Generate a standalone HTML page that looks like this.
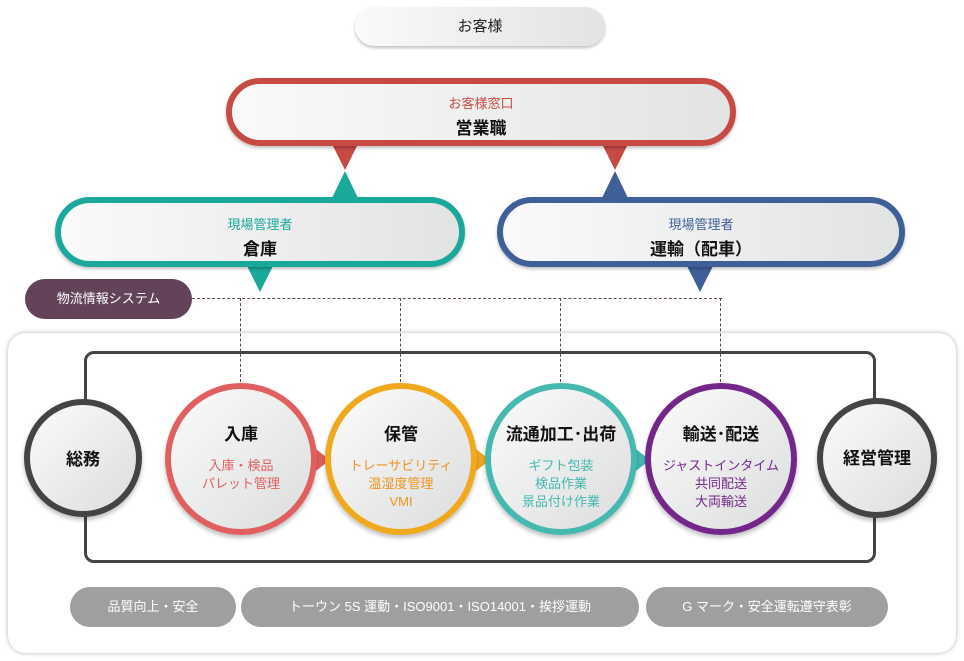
<!DOCTYPE html>
<html><head><meta charset="utf-8"><style>
*{box-sizing:border-box;margin:0;padding:0}
body{width:964px;height:661px;background:#fff;position:relative;overflow:hidden;font-family:"Liberation Sans","Noto Sans CJK JP",sans-serif}
.a{position:absolute}
.pill{position:absolute;border-radius:40px;background:linear-gradient(90deg,#fafafa,#e2e3e3);text-align:center;box-shadow:0 2px 3px rgba(0,0,0,.25)}
.pill .s{font-size:13px;margin-top:11px}
.pill .b{font-size:17px;font-weight:bold;color:#111;margin-top:2px}
.tri{position:absolute;width:0;height:0}
.circ{position:absolute;border-radius:50%;background:linear-gradient(135deg,#fbfbfb,#dcdddd);text-align:center;box-shadow:0 3px 4px rgba(0,0,0,.25)}
.circ .t{font-size:17px;font-weight:bold;color:#111;margin-top:31px}
.circ .d{font-size:13px;line-height:18px;margin-top:12px}
.gp{position:absolute;top:587px;height:40px;border-radius:20px;background:#9e9f9f;color:#fff;font-size:13px;text-align:center;line-height:40px}
</style></head><body>
<div class="pill" style="left:355px;top:7px;width:250px;height:39px;border-radius:20px;font-size:15px;line-height:39px;color:#222">お客様</div>

<div class="tri" style="left:332px;top:144px;border-left:13px solid transparent;border-right:13px solid transparent;border-top:26px solid #c84a45"></div>
<div class="tri" style="left:602px;top:144px;border-left:13px solid transparent;border-right:13px solid transparent;border-top:26px solid #c84a45"></div>
<div class="tri" style="left:332px;top:171px;border-left:13px solid transparent;border-right:13px solid transparent;border-bottom:27px solid #1aa89b"></div>
<div class="tri" style="left:602px;top:171px;border-left:13px solid transparent;border-right:13px solid transparent;border-bottom:27px solid #3e5f98"></div>
<div class="tri" style="left:247px;top:266px;border-left:13px solid transparent;border-right:13px solid transparent;border-top:26px solid #1aa89b"></div>
<div class="tri" style="left:687px;top:266px;border-left:13px solid transparent;border-right:13px solid transparent;border-top:26px solid #3e5f98"></div>

<div class="pill" style="left:226px;top:78px;width:510px;height:68px;border:6px solid #c84a45"><div class="s" style="color:#c84a45;margin-top:9px">お客様窓口</div><div class="b">営業職</div></div>
<div class="pill" style="left:55px;top:197px;width:410px;height:70px;border:6px solid #1aa89b"><div class="s" style="color:#1aa89b">現場管理者</div><div class="b">倉庫</div></div>
<div class="pill" style="left:497px;top:197px;width:408px;height:70px;border:6px solid #3e5f98"><div class="s" style="color:#3e5f98">現場管理者</div><div class="b">運輸（配車）</div></div>

<div class="a" style="left:25px;top:279px;width:167px;height:40px;border-radius:20px;background:#62435a;color:#fff;font-size:13px;line-height:40px;text-align:center">物流情報システム</div>
<div class="a" style="left:192px;top:298px;width:530px;border-top:1px dashed #62435a"></div>

<div class="a" style="left:8px;top:333px;width:948px;height:320px;border-radius:18px;background:#fff;box-shadow:0 0 5px rgba(0,0,0,.3)"></div>
<div class="a" style="left:84px;top:351px;width:792px;height:212px;border:3px solid #444;border-radius:10px"></div>
<div class="a" style="left:240px;top:298px;height:84px;border-left:1px dashed #62435a"></div>
<div class="a" style="left:400px;top:298px;height:84px;border-left:1px dashed #62435a"></div>
<div class="a" style="left:560px;top:298px;height:84px;border-left:1px dashed #62435a"></div>
<div class="a" style="left:720px;top:298px;height:84px;border-left:1px dashed #62435a"></div>

<div class="circ" style="left:24px;top:399px;width:118px;height:118px;border:6px solid #444"><div class="t" style="margin-top:40px">総務</div></div>
<div class="circ" style="left:817px;top:398px;width:120px;height:120px;border:6px solid #444"><div class="t" style="margin-top:40px">経営管理</div></div>

<div class="tri" style="left:312px;top:446px;border-top:14px solid transparent;border-bottom:14px solid transparent;border-left:18px solid #e0605f"></div>
<div class="tri" style="left:472px;top:446px;border-top:14px solid transparent;border-bottom:14px solid transparent;border-left:18px solid #f0a81c"></div>
<div class="tri" style="left:632px;top:446px;border-top:14px solid transparent;border-bottom:14px solid transparent;border-left:18px solid #45b8b0"></div>

<div class="circ" style="left:165px;top:383px;width:152px;height:152px;border:6px solid #e0605f"><div class="t">入庫</div><div class="d" style="color:#e0605f">入庫・検品<br>パレット管理</div></div>
<div class="circ" style="left:325px;top:383px;width:152px;height:152px;border:6px solid #f0a81c"><div class="t">保管</div><div class="d" style="color:#ee9320">トレーサビリティ<br>温湿度管理<br>VMI</div></div>
<div class="circ" style="left:485px;top:383px;width:152px;height:152px;border:6px solid #45b8b0"><div class="t">流通加工･出荷</div><div class="d" style="color:#45b8b0">ギフト包装<br>検品作業<br>景品付け作業</div></div>
<div class="circ" style="left:645px;top:383px;width:152px;height:152px;border:6px solid #74278a"><div class="t">輸送･配送</div><div class="d" style="color:#74278a">ジャストインタイム<br>共同配送<br>大両輸送</div></div>

<div class="gp" style="left:70px;width:166px">品質向上・安全</div>
<div class="gp" style="left:241px;width:398px">トーウン 5S 運動・ISO9001・ISO14001・挨拶運動</div>
<div class="gp" style="left:646px;width:242px">G マーク・安全運転遵守表彰</div>
</body></html>
